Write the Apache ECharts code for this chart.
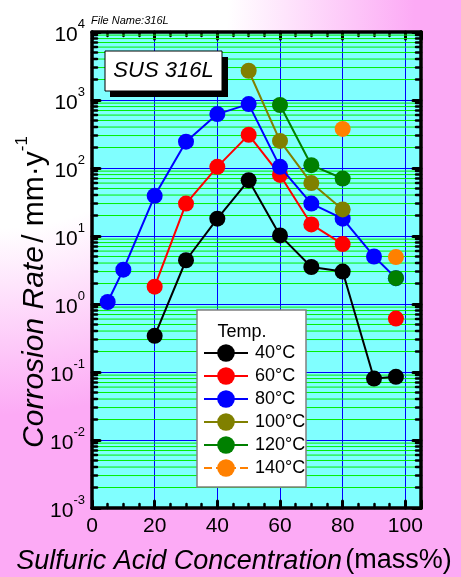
<!DOCTYPE html>
<html>
<head>
<meta charset="utf-8">
<script src="https://cdn.jsdelivr.net/npm/echarts@6/dist/echarts.min.js"></script>
<style>html,body{margin:0;padding:0;}#c{width:461px;height:577px;}</style>
</head>
<body>
<div id="c"></div>
<script>
// ---- data ----
const x40 = [20, 30, 40, 50, 60, 70, 80, 90, 97];
const y40 = [0.34, 4.4, 18, 66, 10.2, 3.5, 3.0, 0.08, 0.085];
const x60 = [20, 30, 40, 50, 60, 70, 80, 90, 97];
const y60 = [1.8, 30, 104, 307, 79, 14.8, 7.6, null, 0.61];
const x80 = [5, 10, 20, 30, 40, 50, 60, 70, 80, 90, 97];
const y80 = [1.07, 3.2, 39, 244, 620, 870, 104, 30, 18, 5.0, 2.4];
const x100 = [50, 60, 70, 80];
const y100 = [2690, 250, 60, 24.6];
const x120 = [60, 70, 80, 90, 97];
const y120 = [845, 110, 70, null, 2.4];
const x140 = [80, 97];
const y140 = [375, 4.9];
const seriesNames = ['40°C', '60°C', '80°C', '100°C', '120°C', '140°C'];
const xTicks = [0, 20, 40, 60, 80, 100];
const yDecades = [-3, -2, -1, 0, 1, 2, 3, 4];

const colors = ['#000000', '#ff0000', '#0000ff', '#808000', '#008000', '#ff8000'];
const FONT = '"Liberation Sans", Arial, sans-serif';

function pairs(xs, ys) { return xs.map((x, i) => [x, ys[i] == null ? '-' : ys[i]]); }
const xsAll = [x40, x60, x80, x100, x120, x140];
const ysAll = [y40, y60, y80, y100, y120, y140];

// minor log positions (2..9 x 10^k) for green grid lines and minor ticks
const minorVals = [];
for (let k = yDecades[0]; k < yDecades[yDecades.length - 1]; k++) {
  for (let m = 2; m <= 9; m++) minorVals.push([0, m * Math.pow(10, k)]);
}

const chart = echarts.init(document.getElementById('c'), null, { renderer: 'canvas' });

const series = [];
series.push({
  type: 'custom',
  name: 'minor',
  silent: true,
  z: 1,
  data: minorVals,
  encode: { x: 0, y: 1 },
  clip: false,
  renderItem: function (params, api) {
    const v = api.value(1);
    const p0 = api.coord([0, v]);
    const p1 = api.coord([105, v]);
    return {
      type: 'group',
      children: [
        { type: 'line', shape: { x1: p0[0], y1: p0[1], x2: p1[0], y2: p1[1] }, style: { stroke: '#00ee00', lineWidth: 1 } },
        { type: 'line', shape: { x1: p0[0], y1: p0[1], x2: p0[0] + 5, y2: p0[1] }, style: { stroke: '#000', lineWidth: 2.5, lineCap: 'round' } },
        { type: 'line', shape: { x1: p1[0] - 5, y1: p1[1], x2: p1[0], y2: p1[1] }, style: { stroke: '#000', lineWidth: 2.5, lineCap: 'round' } }
      ]
    };
  }
});
seriesNames.forEach((n, i) => {
  series.push({
    type: 'line',
    name: n,
    data: pairs(xsAll[i], ysAll[i]),
    symbol: 'circle',
    symbolSize: 16,
    showAllSymbol: true,
    connectNulls: false,
    z: 3 + i,
    itemStyle: { color: colors[i] },
    lineStyle: i === 5 ? { color: colors[i], width: 0, opacity: 0 } : { color: colors[i], width: 2 },
    emphasis: { disabled: true },
    animation: false
  });
});

const yLabelFmt = function (v) {
  const e = Math.round(Math.log10(v));
  return '{b|10}{s|' + e + '}';
};

const option = {
  animation: false,
  backgroundColor: {
    type: 'radial', x: 0, y: 0, r: 0.9,
    colorStops: [
      { offset: 0, color: '#ffffff' },
      { offset: 0.55, color: '#ffffff' },
      { offset: 1, color: '#fcaaf5' }
    ]
  },
  textStyle: { fontFamily: FONT },
  grid: {
    left: 92, right: 40, top: 32, bottom: 69,
    show: true, backgroundColor: '#80ffff', borderWidth: 0,
    containLabel: false
  },
  xAxis: [{
    type: 'value', min: 0, max: 105, interval: 20, position: 'bottom',
    axisLine: { show: true, onZero: false, lineStyle: { color: '#000', width: 3.5 } },
    axisTick: { show: true, inside: true, length: 7, lineStyle: { color: '#000', width: 3, cap: 'round' } },
    minorTick: { show: true, splitNumber: 4, length: 4, lineStyle: { color: '#000', width: 2.5, cap: 'round' } },
    splitLine: { show: true, lineStyle: { color: '#0000ff', width: 1 } },
    axisLabel: {
      show: true, margin: 8, fontSize: 21, color: '#000', fontFamily: FONT,
      formatter: function (v) { return xTicks.indexOf(v) >= 0 ? String(v) : ''; },
      showMaxLabel: false
    }
  }, {
    type: 'value', min: 0, max: 105, interval: 20, position: 'top',
    axisLine: { show: true, onZero: false, lineStyle: { color: '#000', width: 3.5 } },
    axisTick: { show: true, inside: true, length: 7, lineStyle: { color: '#000', width: 3, cap: 'round' } },
    minorTick: { show: true, splitNumber: 4, length: 4, lineStyle: { color: '#000', width: 2.5, cap: 'round' } },
    splitLine: { show: false },
    axisLabel: { show: false }
  }],
  yAxis: [{
    type: 'log', logBase: 10, min: 0.001, max: 10000, splitNumber: 7, position: 'left',
    axisLine: { show: true, onZero: false, lineStyle: { color: '#000', width: 3.5 } },
    axisTick: { show: true, inside: true, length: 8, lineStyle: { color: '#000', width: 3, cap: 'round' } },
    splitLine: { show: true, lineStyle: { color: '#0000ff', width: 1 } },
    axisLabel: {
      show: true, margin: 7, color: '#000', fontFamily: FONT,
      formatter: yLabelFmt,
      rich: {
        b: { fontSize: 21, fontFamily: FONT, color: '#000', verticalAlign: 'bottom', lineHeight: 28 },
        s: { fontSize: 13, fontFamily: FONT, color: '#000', verticalAlign: 'top', lineHeight: 28 }
      }
    }
  }, {
    type: 'log', logBase: 10, min: 0.001, max: 10000, splitNumber: 7, position: 'right',
    axisLine: { show: true, onZero: false, lineStyle: { color: '#000', width: 3.5 } },
    axisTick: { show: true, inside: true, length: 8, lineStyle: { color: '#000', width: 3, cap: 'round' } },
    splitLine: { show: false },
    axisLabel: { show: false }
  }],
  legend: {
    orient: 'vertical', left: 203, top: 344, z: 110,
    padding: 0, itemGap: 5, itemWidth: 44, itemHeight: 22,
    selectedMode: false,
    textStyle: { fontSize: 18, color: '#000', fontFamily: FONT, padding: [0, 0, 0, 2] },
    data: seriesNames.map((n, i) => i === 5
      ? { name: n, lineStyle: { color: colors[i], width: 2, type: 'dashed', opacity: 1 } }
      : { name: n })
  },
  graphic: [
    { type: 'text', left: 91, top: 15, z: 100,
      style: { text: 'File Name:316L', font: 'italic 11px ' + FONT, fill: '#000' } },
    { type: 'rect', shape: { x: 110, y: 57, width: 118, height: 40 }, z: 100, style: { fill: '#000' } },
    { type: 'rect', shape: { x: 105, y: 51, width: 117, height: 40 }, z: 101, style: { fill: '#fff', stroke: '#000', lineWidth: 1 } },
    { type: 'text', x: 163.5, y: 71, z: 102,
      style: { text: 'SUS 316L', font: 'italic 22px ' + FONT, fill: '#000', align: 'center', verticalAlign: 'middle' } },
    { type: 'rect', shape: { x: 197, y: 310, width: 109, height: 177 }, z: 100,
      style: { fill: '#fff', stroke: '#808080', lineWidth: 1.5 } },
    { type: 'text', x: 242, y: 332, z: 102,
      style: { text: 'Temp.', font: '18px ' + FONT, fill: '#000', align: 'center', verticalAlign: 'middle' } },
    { type: 'text', x: 234, y: 561, z: 102,
      style: {
        text: '{i|Sulfuric Acid Concentration} {n|(mass%)}', align: 'center', verticalAlign: 'middle',
        rich: {
          i: { font: 'italic 27px ' + FONT, fill: '#000' },
          n: { font: '27px ' + FONT, fill: '#000' }
        }
      } },
    { type: 'text', x: 32, y: 292, rotation: Math.PI / 2, z: 102,
      style: {
        text: '{i|Corrosion Rate} {n|/ mm·y}{s|-1}', align: 'center', verticalAlign: 'middle',
        rich: {
          i: { font: 'italic 30px ' + FONT, fill: '#000', verticalAlign: 'bottom', lineHeight: 36 },
          n: { font: '30px ' + FONT, fill: '#000', verticalAlign: 'bottom', lineHeight: 36 },
          s: { font: '17px ' + FONT, fill: '#000', verticalAlign: 'top', lineHeight: 36 }
        }
      } }
  ],
  series: series
};
chart.setOption(option);
</script>
</body>
</html>
